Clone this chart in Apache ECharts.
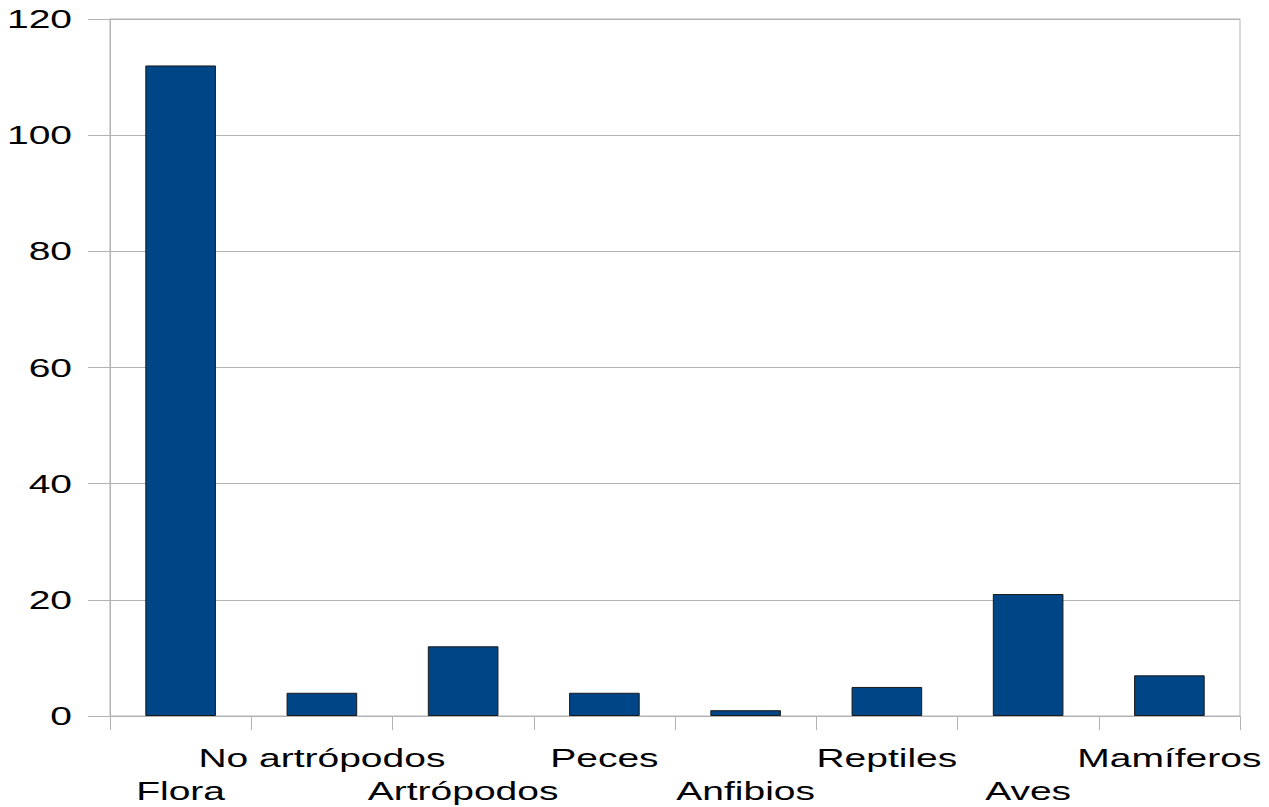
<!DOCTYPE html>
<html>
<head>
<meta charset="utf-8">
<script src="https://cdn.jsdelivr.net/npm/echarts@6/dist/echarts.min.js"></script>
<style>
html,body{margin:0;padding:0;background:#fff;overflow:hidden;}
#chart{width:1269px;height:807px;}
</style>
</head>
<body>
<div id="chart"></div>
<script>
const categories = ['Flora','No artrópodos','Artrópodos','Peces','Anfibios','Reptiles','Aves','Mamíferos'];
const values = [112, 4, 12, 4, 1, 5, 21, 7];
const yTicks = [0, 20, 40, 60, 80, 100, 120];

const TEXT_STRETCH = 1.5;

const chart = echarts.init(document.getElementById('chart'), null, { renderer: 'svg' });

function stretchTexts() {
  const texts = document.querySelectorAll('#chart svg text');
  texts.forEach(function (t) {
    if (t.getAttribute('data-stretched')) return;
    const x = parseFloat(t.getAttribute('x') || '0');
    const tr = t.getAttribute('transform') || '';
    t.setAttribute('transform', tr + ' translate(' + x + ' 0) scale(' + TEXT_STRETCH + ' 1) translate(' + (-x) + ' 0)');
    t.setAttribute('data-stretched', '1');
  });
}

chart.on('finished', stretchTexts);

chart.setOption({
  animation: false,
  backgroundColor: '#ffffff',
  grid: {
    left: 110, top: 19, width: 1130, height: 708,
    show: true, borderColor: '#b3b3b3', borderWidth: 1, containLabel: false
  },
  xAxis: {
    type: 'category',
    data: categories,
    axisLine: { show: true, lineStyle: { color: '#b3b3b3', width: 1 } },
    axisTick: { show: true, length: 14, alignWithLabel: false, lineStyle: { color: '#b3b3b3' } },
    axisLabel: {
      interval: 0,
      margin: 25,
      fontFamily: 'Liberation Sans, Arial, sans-serif',
      fontSize: 26,
      lineHeight: 33,
      color: '#000',
      verticalAlign: 'top',
      formatter: function (v, i) { return i % 2 === 0 ? '\n' + v : v; }
    },
    splitLine: { show: false }
  },
  yAxis: {
    type: 'value',
    min: 0, max: 120, interval: 20,
    axisLine: { show: true, lineStyle: { color: '#b3b3b3', width: 1 } },
    axisTick: { show: true, inside: false, length: 22, lineStyle: { color: '#b3b3b3' } },
    axisLabel: {
      margin: 38,
      fontFamily: 'Liberation Sans, Arial, sans-serif',
      fontSize: 26,
      color: '#000',
      formatter: function (v) { return yTicks.indexOf(v) >= 0 ? String(v) : ''; }
    },
    splitLine: { show: true, lineStyle: { color: '#b3b3b3', width: 1 } }
  },
  series: [{
    type: 'bar',
    data: values,
    barWidth: '50%',
    itemStyle: { color: '#004586', borderColor: '#1a1a1a', borderWidth: 1 }
  }]
});
stretchTexts();
setTimeout(stretchTexts, 50);
</script>
</body>
</html>
